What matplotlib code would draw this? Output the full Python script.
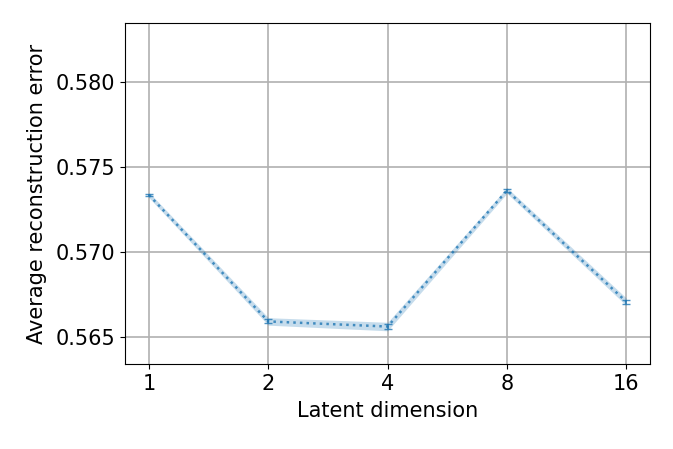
import matplotlib
matplotlib.use("Agg")
import numpy as np
import matplotlib.pyplot as plt

latent_dims = ["1", "2", "4", "8", "16"]
mean_error = [0.57335, 0.56592, 0.56562, 0.57362, 0.56708]
std_error = [0.00006, 0.00012, 0.00015, 0.00007, 0.00012]

fig = plt.figure(figsize=(6.73, 4.49), dpi=100)
ax = fig.add_axes([0.186, 0.189, 0.78, 0.76])

x = np.arange(len(latent_dims))
mean = np.array(mean_error)
std = np.array(std_error)

# shaded band plus dotted line with error bars
ax.fill_between(x, mean - std - 0.0001, mean + std + 0.0001, color='#1f77b4', alpha=0.25, linewidth=0)
ax.errorbar(x, mean, yerr=std, color='#1f77b4', linestyle=':', linewidth=1.8, capsize=3,
            elinewidth=1.2, alpha=0.8)

ax.set_xticks(x)
ax.set_xticklabels(latent_dims)
ax.set_yticks([0.565, 0.570, 0.575, 0.580])
ax.set_ylim(0.56341, 0.58347)
ax.set_xlim(-0.2, 4.2)
ax.grid(True, color='#b0b0b0', linewidth=1.2)
ax.set_axisbelow(True)
ax.tick_params(labelsize=15)
ax.set_xlabel('Latent dimension', fontsize=15, labelpad=5)
ax.set_ylabel('Average reconstruction error', fontsize=15, labelpad=6)

fig.savefig('out.png', dpi=100)
